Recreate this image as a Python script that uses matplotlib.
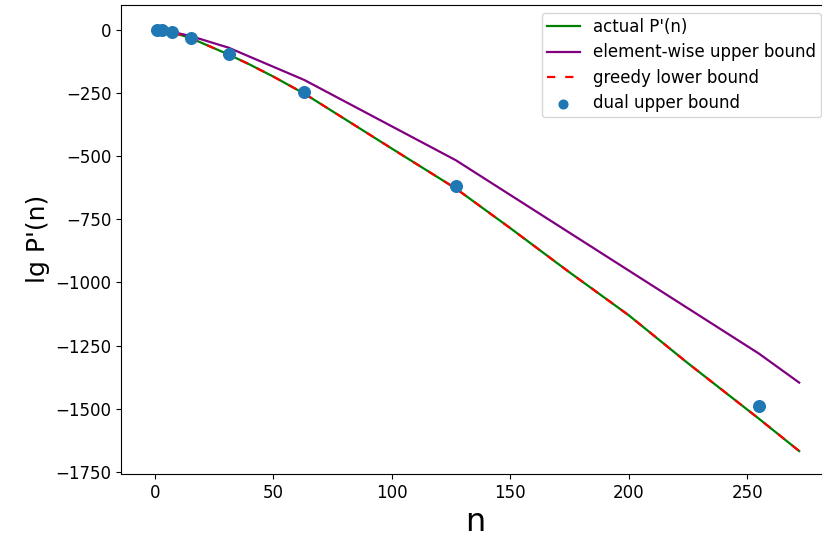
import matplotlib
matplotlib.use("Agg")
import matplotlib.pyplot as plt

# actual P'(n) (log scale values)
n_actual = [0, 1, 3, 7, 15, 31, 40, 50, 63, 80, 100, 127, 150, 175, 200, 225, 255, 272]
lg_actual = [0, 0, -2, -9, -32, -97, -137, -185, -252, -352, -470, -628, -785, -960, -1130, -1320, -1540, -1668]

# element-wise upper bound
n_elem = [0, 1, 3, 7, 15, 31, 63, 127, 255, 272]
lg_elem = [0, 0, -2, -7, -24, -70, -198, -516, -1282, -1397]

# greedy lower bound
n_greedy = n_actual
lg_greedy = lg_actual

# dual upper bound
n_dual = [1, 3, 7, 15, 31, 63, 127, 255]
lg_dual = [0, -1, -8, -32, -95, -247, -617, -1488]

W, H, DPI = 822, 539, 100
fig = plt.figure(figsize=(W / DPI, H / DPI), dpi=DPI)
left, right, top, bottom = 121, 829.5, 4.5, 474
ax = fig.add_axes([left / W, 1 - bottom / H, (right - left) / W, (bottom - top) / H])

ax.plot(n_actual, lg_actual, color="green", lw=1.6, label="actual P'(n)")
ax.plot(n_elem, lg_elem, color="purple", lw=1.6, label="element-wise upper bound")
ax.plot(n_greedy, lg_greedy, color="red", lw=1.6, ls=(0, (3.7, 4.5)), label="greedy lower bound")
ax.scatter(n_dual, lg_dual, color="#1f77b4", s=70, zorder=3, label="dual upper bound")

ax.set_xlim(-14.4, 284.8)
ax.set_ylim(-1759, 101)
ax.set_xticks([0, 50, 100, 150, 200, 250])
ax.set_yticks([0, -250, -500, -750, -1000, -1250, -1500, -1750])
ax.tick_params(labelsize=12)

ax.set_xlabel("n", fontsize=23)
ax.set_ylabel("lg P'(n)", fontsize=18)

ax.legend(loc="upper right", fontsize=12, borderpad=0.3, labelspacing=0.45,
          markerscale=0.75)

fig.savefig("out.png", dpi=DPI)
